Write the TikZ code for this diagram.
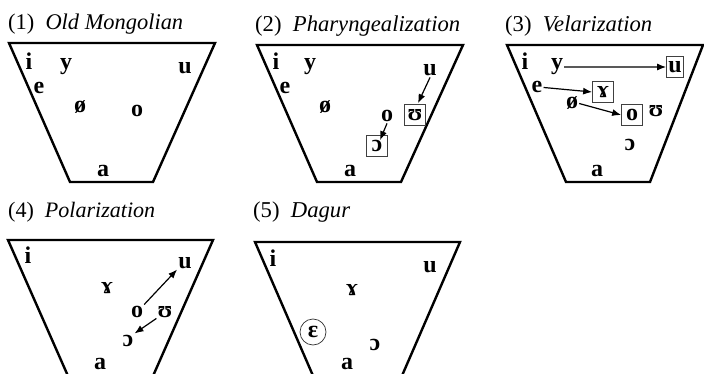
\documentclass[tikz,border=0pt]{standalone}
\usepackage{fontspec}
\setmainfont{Liberation Serif}
\usetikzlibrary{arrows.meta,calc}
\begin{document}
\begin{tikzpicture}[x=1pt,y=-1pt,
  trap/.style={line width=2.4pt, line join=miter},
  vw/.style={font=\fontsize{24}{24}\selectfont\bfseries, inner sep=1pt, anchor=base},
  bx/.style={font=\fontsize{24}{24}\selectfont\bfseries, draw=black!75, line width=0.7pt, minimum width=21pt, minimum height=21pt, inner sep=1pt, anchor=center},
  crc/.style={font=\fontsize{24}{24}\selectfont\bfseries, draw=black!80, line width=0.7pt, circle, minimum size=26pt, inner sep=0pt, anchor=center},
  ttl/.style={font=\fontsize{20}{20}\selectfont, inner sep=0pt, anchor=base west},
  arr/.style={line width=1.2pt, -{Latex[length=9pt,width=7pt]}}]
\useasboundingbox (0,0) rectangle (704,374);
\clip (0,0) rectangle (704,374);

% ---------- (1) Old Mongolian ----------
\node[ttl] (t1) at (8,30) {\resizebox{175pt}{!}{(1)\hspace{0.5em}\textit{Old Mongolian}}};
\draw[trap] (9,43) -- (215,43) -- (153,182) -- (70,182) -- cycle;
\node[vw] (i1) at (29,70) {i};
\node[vw] (y1) at (66,70) {y};
\node[vw] (u1) at (185,74) {u};
\node[vw] (e1) at (39,94) {e};
\node[vw] (oe1) at (80,113) {ø};
\node[vw] (o1) at (137,117) {o};
\node[vw] (a1) at (103,177) {a};

% ---------- (2) Pharyngealization ----------
\node[ttl] (t2) at (255,32) {\resizebox{205pt}{!}{(2)\hspace{0.5em}\textit{Pharyngealization}}};
\draw[trap] (257,45) -- (463,45) -- (401,182) -- (317,182) -- cycle;
\node[vw] (i2) at (276,70) {i};
\node[vw] (y2) at (310,70) {y};
\node[vw] (u2) at (430,76) {u};
\node[vw] (e2) at (285,94) {e};
\node[vw] (oe2) at (325,113) {ø};
\node[vw] (o2) at (387,122) {o};
\node[bx] (U2) at (415,115) {ʊ};
\node[bx] (O2) at (377,146) {ɔ};
\node[vw] (a2) at (350,177) {a};
\draw[arr] (u2.south) -- ($(U2.north)+(3,-1)$);
\draw[arr] (o2.south) -- ($(O2.north)+(3,5)$);

% ---------- (3) Velarization ----------
\node[ttl] (t3) at (505,32) {\resizebox{147pt}{!}{(3)\hspace{0.5em}\textit{Velarization}}};
\draw[trap] (507,45) -- (703,45) -- (650,182) -- (566,182) -- cycle;
\node[vw] (i3) at (525,70) {i};
\node[vw] (y3) at (557,70) {y};
\node[bx, minimum width=17pt] (U3) at (675,67) {u};
\node[vw] (e3) at (537,93) {e};
\node[bx] (G3) at (603,92) {ɤ};
\node[vw] (oe3) at (572,109) {ø};
\node[bx] (O3) at (632,115) {o};
\node[vw] (V3) at (656,117) {ʊ};
\node[vw] (C3) at (630,151) {ɔ};
\node[vw] (a3) at (597,177) {a};
\draw[arr] (y3.east) -- (U3.west);
\draw[arr] (e3.east) -- (G3.west);
\draw[arr] (oe3.east) -- (O3.west);

% ---------- (4) Polarization ----------
\node[ttl] (t4) at (8,218) {\resizebox{147pt}{!}{(4)\hspace{0.5em}\textit{Polarization}}};
\draw[trap] (8,240) -- (213,240) -- (153,376) -- (68,376) -- cycle;
\node[vw] (i4) at (28,263) {i};
\node[vw] (G4) at (107,293) {ɤ};
\node[vw] (u4) at (185,268) {u};
\node[vw] (o4) at (137,317) {o};
\node[vw] (V4) at (165,317) {ʊ};
\node[vw] (C4) at (128,346) {ɔ};
\node[vw, inner sep=0pt] (a4) at (100,369) {a};
\draw[arr] (o4.north east) -- (u4.south west);
\draw[arr] (V4.south west) -- (C4.north east);

% ---------- (5) Dagur ----------
\node[ttl] (t5) at (253,218) {\resizebox{97pt}{!}{(5)\hspace{0.5em}\textit{Dagur}}};
\draw[trap] (255,242) -- (460,242) -- (401,378) -- (314,378) -- cycle;
\node[vw] (i5) at (273,266) {i};
\node[vw] (u5) at (430,272) {u};
\node[vw] (G5) at (352,295) {ɤ};
\node[crc] (E5) at (313,332) {ɛ};
\node[vw] (C5) at (375,350) {ɔ};
\node[vw, inner sep=0pt] (a5) at (347,369) {a};
\end{tikzpicture}
\end{document}
